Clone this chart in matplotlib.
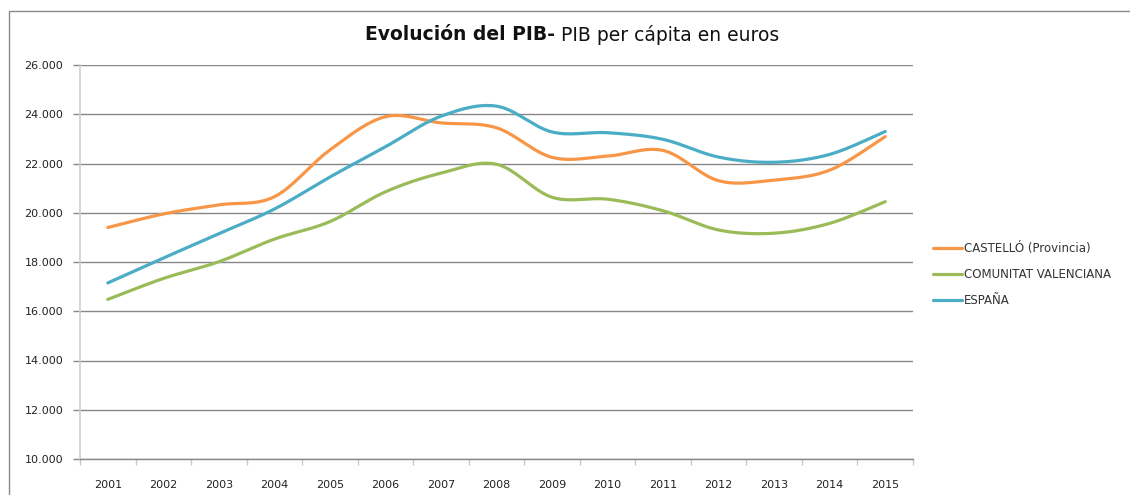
import numpy as np
import matplotlib
matplotlib.use("Agg")
import matplotlib.pyplot as plt
from matplotlib.patches import Rectangle
from matplotlib.ticker import FuncFormatter, FixedLocator

years = ["2001", "2002", "2003", "2004", "2005", "2006", "2007", "2008",
         "2009", "2010", "2011", "2012", "2013", "2014", "2015"]
castello = [19400, 19950, 20320, 20650, 22550, 23900, 23650, 23450,
            22250, 22300, 22530, 21300, 21330, 21730, 23090]
comunitat = [16480, 17330, 18010, 18930, 19640, 20850, 21610, 21970,
             20630, 20550, 20080, 19300, 19170, 19570, 20450]
espana = [17150, 18160, 19150, 20150, 21450, 22680, 23920, 24330,
          23280, 23250, 22980, 22260, 22050, 22370, 23300]
series_names = ["CASTELLÓ (Provincia)", "COMUNITAT VALENCIANA", "ESPAÑA"]
colors = ["#F79646", "#9BBB59", "#4BACC6"]
yticks = [10000, 12000, 14000, 16000, 18000, 20000, 22000, 24000, 26000]


def smooth(x, y, n=30):
    """Excel-like smoothed line (Catmull-Rom cubic Bezier)."""
    x = np.asarray(x, float)
    y = np.asarray(y, float)
    px = np.concatenate([[x[0]], x, [x[-1]]])
    py = np.concatenate([[y[0]], y, [y[-1]]])
    xs, ys = [], []
    t = np.linspace(0, 1, n)
    for i in range(1, len(px) - 2):
        p0 = np.array([px[i], py[i]])
        p3 = np.array([px[i + 1], py[i + 1]])
        c1 = p0 + (np.array([px[i + 1], py[i + 1]]) - np.array([px[i - 1], py[i - 1]])) / 6
        c2 = p3 - (np.array([px[i + 2], py[i + 2]]) - np.array([px[i], py[i]])) / 6
        b = ((1 - t) ** 3)[:, None] * p0 + (3 * (1 - t) ** 2 * t)[:, None] * c1 \
            + (3 * (1 - t) * t ** 2)[:, None] * c2 + (t ** 3)[:, None] * p3
        xs.append(b[:, 0])
        ys.append(b[:, 1])
    return np.concatenate(xs), np.concatenate(ys)


plt.rcParams['font.family'] = ['DejaVu Sans']
fig = plt.figure(figsize=(11.3, 4.95), dpi=100)
ax = fig.add_axes([80 / 1130, 1 - 459 / 495, 833 / 1130, (459 - 65) / 495])

xpos = np.arange(len(years))
for vals, name, c in zip([castello, comunitat, espana], series_names, colors):
    sx, sy = smooth(xpos, vals)
    ax.plot(sx, sy, color=c, lw=2.3, label=name, solid_capstyle='round')

ax.set_xlim(-0.5, len(years) - 0.5)
ax.set_ylim(10000, 26000)
ax.set_yticks(yticks)
ax.yaxis.set_major_formatter(FuncFormatter(lambda v, p: f"{int(v):,}".replace(",", ".")))
ax.grid(axis='y', color='#878787', lw=1.0)
ax.set_axisbelow(True)

ax.set_xticks(xpos)
ax.set_xticklabels(years)
ax.xaxis.set_minor_locator(FixedLocator(np.arange(-0.5, len(years), 1.0)))
ax.tick_params(axis='x', which='major', length=0, pad=15, labelsize=8, labelcolor='#222222')
ax.tick_params(axis='x', which='minor', length=4, color='#c8c8c8', width=1)
ax.tick_params(axis='y', which='major', length=5, color='#878787', width=1,
               pad=7, labelsize=8, labelcolor='#222222')

for s in ['top', 'right']:
    ax.spines[s].set_visible(False)
ax.spines['left'].set_color('#d0d0d0')
ax.spines['left'].set_linewidth(1.2)
ax.spines['bottom'].set_color('#878787')
ax.spines['bottom'].set_linewidth(1.0)

leg = fig.legend(loc='upper left', bbox_to_anchor=(928 / 1130, 1 - 237 / 495),
                 frameon=False, fontsize=8.5, handlelength=2.5, handletextpad=0.15,
                 labelspacing=1.1, borderaxespad=0)
for t in leg.get_texts():
    t.set_color('#333333')

# outer chart border
fig.patches.append(Rectangle((8.5 / 1130, -0.05), 1.2, 1 - 10.5 / 495 + 0.05,
                             transform=fig.transFigure, fill=False,
                             edgecolor='#8a8a8a', lw=1.0, clip_on=False))

# title: bold part + regular part, centered together
fig.canvas.draw()
r = fig.canvas.get_renderer()
ty = 1 - 35 / 495
t1 = fig.text(0, ty, "Evolución del PIB-", fontsize=13.5, fontweight='bold',
              va='center', ha='left', color='#111111')
t2 = fig.text(0, ty, " PIB per cápita en euros", fontsize=13.5,
              va='center', ha='left', color='#111111')
w1 = t1.get_window_extent(r).width / fig.bbox.width
w2 = t2.get_window_extent(r).width / fig.bbox.width
cx = 572 / 1130
x0 = cx - (w1 + w2) / 2
t1.set_x(x0)
t2.set_x(x0 + w1)

fig.savefig("out.png", dpi=100)
